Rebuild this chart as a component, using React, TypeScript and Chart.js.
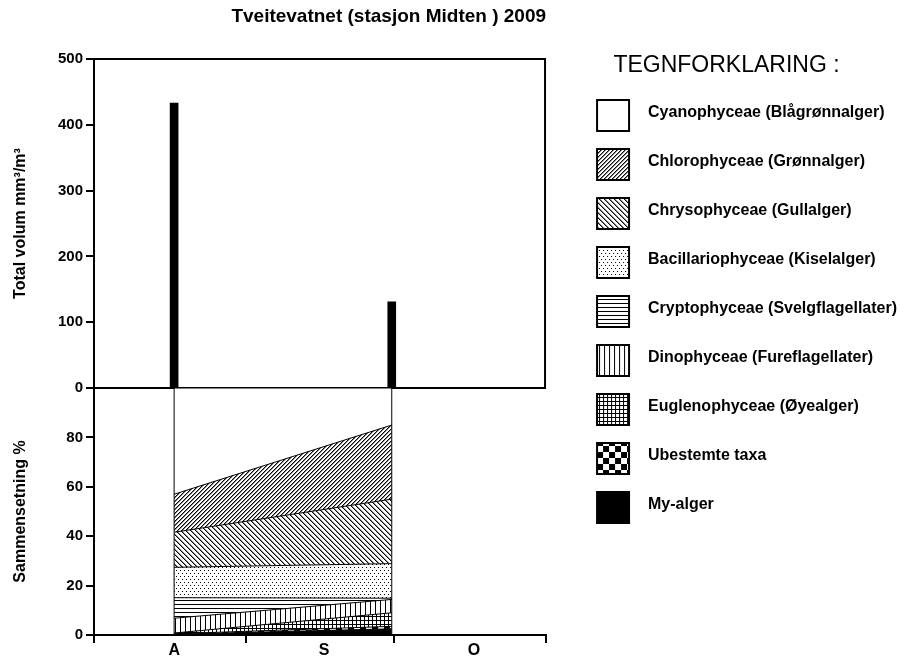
import React, { useEffect, useRef } from 'react';
import { Chart, registerables } from 'chart.js';

Chart.register(...registerables);

// ---------- data ----------
const chartTitle = 'Tveitevatnet (stasjon Midten ) 2009';
const legendTitle = 'TEGNFORKLARING :';
const topAxisTitle = 'Total volum mm³/m³';
const bottomAxisTitle = 'Sammensetning %';

// x axis: days counted from 1 August
const monthStarts = [0, 31, 61, 92];
const monthLabels = ['A', 'S', 'O'];
const sampleDays = [16.3, 60.6];

// total volume (mm³/m³) per sample
const totalVolume = [433, 131];

// composition in % per sample, bottom layer first
const groupNames = [
  'My-alger',
  'Ubestemte taxa',
  'Euglenophyceae (Øyealger)',
  'Dinophyceae (Fureflagellater)',
  'Cryptophyceae (Svelgflagellater)',
  'Bacillariophyceae (Kiselalger)',
  'Chrysophyceae (Gullalger)',
  'Chlorophyceae (Grønnalger)',
  'Cyanophyceae (Blågrønnalger)',
];
const myAlger = [0.3, 2.5];
const ubestemte = [0.2, 1.0];
const eugleno = [0.3, 5.5];
const dino = [6.0, 5.4];
const crypto = [8.3, 0.5];
const bacillario = [12.3, 14.0];
const chryso = [14.2, 26.1];
const chloro = [15.4, 30.0];
const cyano = [43.0, 15.0];
const groupValues = [myAlger, ubestemte, eugleno, dino, crypto, bacillario, chryso, chloro, cyano];

// ---------- styles ----------
const groupFills = ['solid', 'checker', 'grid', 'vlines', 'hlines', 'dots', 'back', 'fwd', 'white'];
const FONT = '"Liberation Sans", Arial, sans-serif';

function makeTile(kind: string): HTMLCanvasElement {
  const c = document.createElement('canvas');
  const g = c.getContext('2d')!;
  const init = (w: number, h: number) => {
    c.width = w;
    c.height = h;
    g.fillStyle = '#fff';
    g.fillRect(0, 0, w, h);
    g.fillStyle = '#000';
  };
  const px = (x: number, y: number) => g.fillRect(x, y, 1, 1);
  if (kind === 'fwd') {
    const s = 4;
    init(s, s);
    for (let y = 0; y < s; y++) for (let x = 0; x < s; x++) if ((x + y) % s === s - 1) px(x, y);
    g.fillStyle = 'rgba(0,0,0,0.45)';
    for (let y = 0; y < s; y++) for (let x = 0; x < s; x++) if ((x + y) % s === 0) px(x, y);
  } else if (kind === 'back') {
    const s = 5;
    init(s, s);
    for (let y = 0; y < s; y++) for (let x = 0; x < s; x++) if ((x - y + s * 4) % s === 0) px(x, y);
    g.fillStyle = 'rgba(0,0,0,0.45)';
    for (let y = 0; y < s; y++) for (let x = 0; x < s; x++) if ((x - y + s * 4) % s === 1) px(x, y);
  } else if (kind === 'dots') {
    init(4, 6);
    px(0, 0);
    px(2, 3);
  } else if (kind === 'hlines') {
    init(4, 4);
    g.fillRect(0, 0, 4, 1);
  } else if (kind === 'vlines') {
    init(5, 5);
    g.fillRect(0, 0, 1, 5);
  } else if (kind === 'grid') {
    init(4, 4);
    g.fillRect(0, 0, 4, 1);
    g.fillRect(0, 0, 1, 4);
  } else if (kind === 'checker') {
    init(12, 12);
    g.fillRect(0, 0, 6, 6);
    g.fillRect(6, 6, 6, 6);
  } else if (kind === 'solid') {
    init(2, 2);
    g.fillRect(0, 0, 2, 2);
  } else {
    init(2, 2);
  }
  return c;
}

function fillStyleFor(kind: string, g: CanvasRenderingContext2D): string | CanvasPattern {
  if (kind === 'white') return '#ffffff';
  if (kind === 'solid') return '#000000';
  return g.createPattern(makeTile(kind), 'repeat') as CanvasPattern;
}

function makeSwatch(kind: string): HTMLCanvasElement {
  const W = 61;
  const H = 44;
  const sx = 17;
  const sy = 8;
  const sw = 34;
  const sh = 33;
  const c = document.createElement('canvas');
  c.width = W;
  c.height = H;
  const g = c.getContext('2d')!;
  g.fillStyle = fillStyleFor(kind, g);
  g.fillRect(sx, sy, sw, sh);
  g.strokeStyle = '#000';
  g.lineWidth = 2;
  g.strokeRect(sx + 1, sy + 1, sw - 2, sh - 2);
  return c;
}

// lets the right-hand legend be as wide as its labels need
const legendWidthPlugin = {
  id: 'legendWidth',
  beforeLayout(chart: any) {
    const lg = chart.legend;
    if (lg && !lg.__wide) {
      const orig = lg.update.bind(lg);
      lg.update = (maxWidth: number, maxHeight: number, margins: any) =>
        orig(Math.max(maxWidth, 420), maxHeight, margins);
      lg.__wide = true;
    }
  },
};

const topFramePlugin = {
  id: 'topFrame',
  afterDatasetsDraw(chart: any) {
    const s = chart.scales.yTop;
    const { ctx, chartArea } = chart;
    ctx.save();
    ctx.strokeStyle = '#000';
    ctx.lineWidth = 2;
    ctx.beginPath();
    ctx.moveTo(chartArea.right - 1, s.top - 1);
    ctx.lineTo(chartArea.right - 1, s.bottom);
    ctx.stroke();
    ctx.restore();
  },
};

export default function App() {
  const ref = useRef<HTMLCanvasElement>(null);

  useEffect(() => {
    const canvas = ref.current!;
    const ctx = canvas.getContext('2d')!;
    Chart.defaults.font.family = FONT;
    Chart.defaults.color = '#000';

    const midpoints = monthStarts.slice(0, -1).map((s, i) => (s + monthStarts[i + 1]) / 2);
    const swatches = groupFills.map((k) => makeSwatch(k));

    const areaSets = groupValues.map((vals, gi) => ({
      type: 'line' as const,
      label: groupNames[gi],
      data: sampleDays.map((d, i) => ({ x: d, y: vals[i] })),
      yAxisID: 'yBot',
      xAxisID: 'x',
      stack: 'comp',
      fill: gi === 0 ? 'origin' : '-1',
      backgroundColor: fillStyleFor(groupFills[gi], ctx),
      borderColor: '#000',
      borderWidth: 1,
      pointRadius: 0,
      tension: 0,
    }));

    const barSet = {
      type: 'bar' as const,
      label: 'Total volum',
      data: sampleDays.map((d, i) => ({ x: d, y: totalVolume[i] })),
      yAxisID: 'yTop',
      xAxisID: 'x',
      backgroundColor: '#000',
      borderWidth: 0,
      barThickness: 8,
    };

    const edgeSets = sampleDays.map((d, i) => ({
      type: 'line' as const,
      label: 'edge' + i,
      data: [
        { x: d, y: 0 },
        { x: d, y: 100 },
      ],
      yAxisID: 'yBot',
      xAxisID: 'x',
      stack: 'edge' + i,
      fill: false,
      borderColor: '#000',
      borderWidth: 1,
      pointRadius: 0,
      order: -1,
    }));

    const tickFont = { size: 15, weight: 'bold' as const };
    const axisTitleFont = { size: 16, weight: 'bold' as const };
    const axisTitlePad = { top: 11.4, bottom: 24.4 };

    const chart = new Chart(ctx, {
      type: 'line',
      data: { datasets: [...areaSets, barSet, ...edgeSets] as any },
      plugins: [legendWidthPlugin, topFramePlugin],
      options: {
        animation: false,
        responsive: false,
        events: [],
        layout: { padding: { bottom: 2 } },
        scales: {
          yBot: {
            type: 'linear',
            position: 'left',
            stack: 'panels',
            stackWeight: 247,
            stacked: true,
            min: 0,
            max: 100,
            ticks: {
              stepSize: 20,
              font: tickFont,
              color: '#000',
              padding: 3,
              callback: (v: any) => (v === 100 ? '' : String(v)),
            },
            grid: {
              drawOnChartArea: true,
              color: (c: any) => (c.tick && c.tick.value === 100 ? '#000' : 'rgba(0,0,0,0)'),
              lineWidth: 2,
              drawTicks: true,
              tickLength: 8,
              tickColor: '#000',
              tickWidth: 2,
            },
            border: { display: true, color: '#000', width: 2 },
            title: {
              display: true,
              text: bottomAxisTitle,
              font: axisTitleFont,
              color: '#000',
              padding: axisTitlePad,
            },
          },
          yTop: {
            type: 'linear',
            position: 'left',
            stack: 'panels',
            stackWeight: 329,
            min: 0,
            max: 500,
            ticks: { stepSize: 100, font: tickFont, color: '#000', padding: 3 },
            grid: {
              drawOnChartArea: true,
              color: (c: any) => (c.tick && c.tick.value === 500 ? '#000' : 'rgba(0,0,0,0)'),
              lineWidth: 2,
              drawTicks: true,
              tickLength: 8,
              tickColor: '#000',
              tickWidth: 2,
            },
            border: { display: true, color: '#000', width: 2 },
            title: {
              display: true,
              text: topAxisTitle,
              font: axisTitleFont,
              color: '#000',
              padding: axisTitlePad,
            },
          },
          x: {
            type: 'linear',
            position: 'bottom',
            min: monthStarts[0],
            max: monthStarts[monthStarts.length - 1],
            offset: false,
            afterBuildTicks: (scale: any) => {
              scale.ticks = [...monthStarts, ...midpoints]
                .sort((a, b) => a - b)
                .map((v) => ({ value: v }));
            },
            ticks: {
              autoSkip: false,
              maxRotation: 0,
              padding: 0,
              labelOffset: 4,
              font: { size: 16, weight: 'bold', lineHeight: 1 },
              color: '#000',
              callback: (v: any) => {
                const i = midpoints.indexOf(v);
                return i >= 0 ? monthLabels[i] : '';
              },
            },
            grid: {
              offset: false,
              drawOnChartArea: false,
              drawTicks: true,
              tickLength: 8,
              tickWidth: 2,
              lineWidth: 2,
              tickColor: (c: any) =>
                c.tick && monthStarts.indexOf(c.tick.value) >= 0 ? '#000' : 'rgba(0,0,0,0)',
            },
            border: { display: true, color: '#000', width: 2 },
          },
        } as any,
        plugins: {
          title: {
            display: true,
            text: chartTitle,
            fullSize: false,
            align: 'end',
            color: '#000',
            font: { size: 19, weight: 'bold', lineHeight: 1 },
            padding: { top: 7, bottom: 33 },
          },
          legend: {
            display: true,
            position: 'right',
            align: 'start',
            title: {
              display: true,
              text: legendTitle,
              color: '#000',
              font: { size: 23, weight: 'normal', lineHeight: 1 },
              padding: { top: 54, bottom: -5 },
            } as any,
            labels: {
              usePointStyle: true,
              pointStyleWidth: 61,
              padding: 33,
              color: '#000',
              font: { size: 16, weight: 'bold' },
              generateLabels: () =>
                groupNames
                  .map((name, i) => ({
                    text: name,
                    pointStyle: swatches[i],
                    datasetIndex: i,
                    hidden: false,
                    lineWidth: 0,
                    fillStyle: '#000',
                    strokeStyle: '#000',
                    fontColor: '#000',
                  }))
                  .reverse() as any,
            },
          },
          tooltip: { enabled: false },
        },
      },
    });
    return () => chart.destroy();
  }, []);

  return (
    <canvas
      ref={ref}
      width={907}
      height={661}
      style={{ position: 'absolute', left: 0, top: 0, display: 'block' }}
    />
  );
}
